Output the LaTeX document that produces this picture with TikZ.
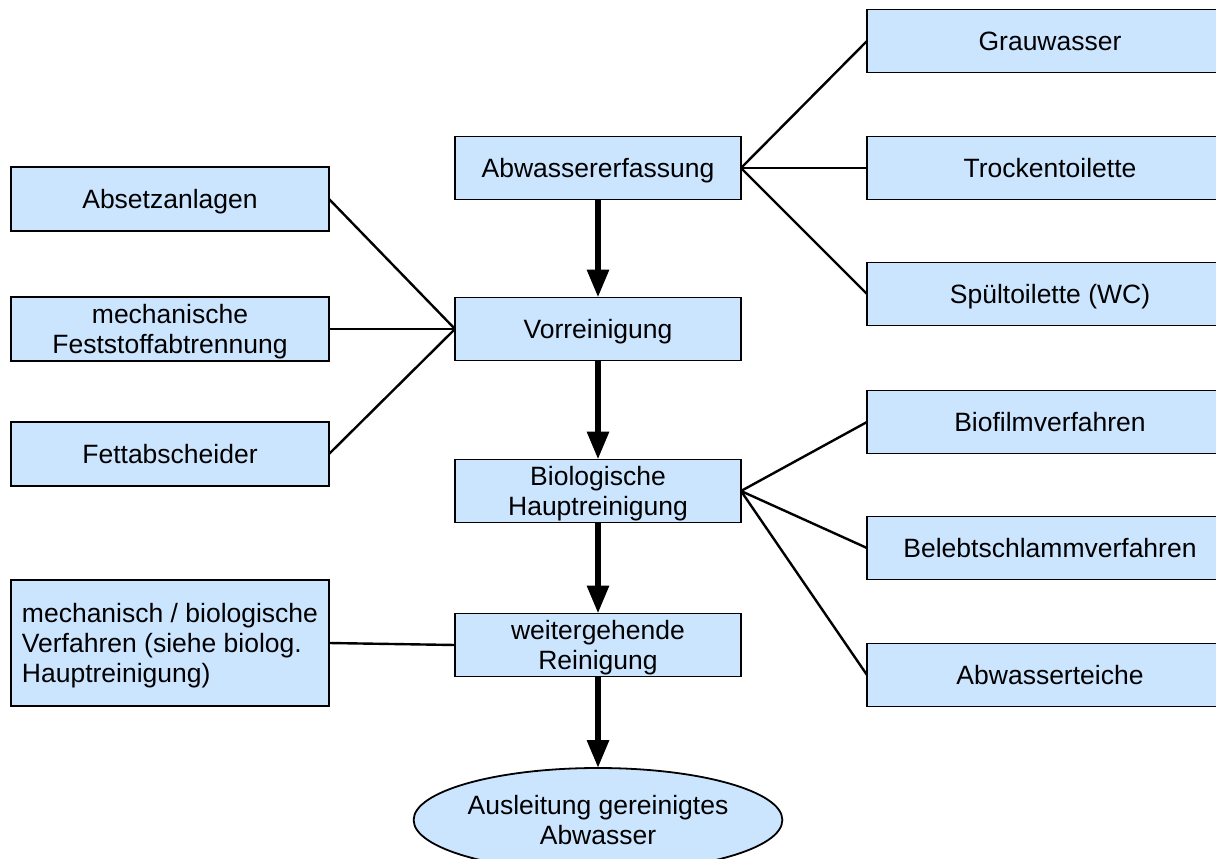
\documentclass[tikz,border=0pt]{standalone}
\usepackage{fontspec}
\setmainfont{Liberation Sans}
\usetikzlibrary{arrows.meta,shapes.geometric}
\definecolor{boxfill}{RGB}{204,229,255}
\newcommand{\lostrut}{\rule[-0.212em]{0pt}{1.117em}}
\begin{document}
\begin{tikzpicture}[x=1pt,y=-1pt,
  box/.style={draw=black,line width=1.8pt,fill=boxfill,rectangle,inner sep=0pt,outer sep=0pt,
    align=center,font=\fontsize{26.5}{30}\selectfont},
  mid/.style={box,minimum width=286pt,minimum height=63pt},
  lbox/.style={box,minimum width=318pt,minimum height=64pt},
  rbox/.style={box,minimum width=366pt,minimum height=63pt},
  link/.style={line width=2.4pt,black},
  flow/.style={line width=6pt,black,-{Triangle[length=28pt,width=21pt]}}]
\useasboundingbox (0,0) rectangle (1216,859);
% central chain
\node[mid] (abw) at (598,168) {\lostrut Abwassererfassung};
\node[mid] (vor) at (598,329) {\lostrut Vorreinigung};
\node[mid] (bio) at (598,491) {\lostrut Biologische\\Hauptreinigung\lostrut};
\node[mid] (wei) at (598,645) {\lostrut weitergehende\\Reinigung\lostrut};
\node[box,ellipse,minimum width=350pt,minimum height=104pt] (aus) at (598,820) {\lostrut Ausleitung gereinigtes\\Abwasser\lostrut};
% left boxes
\node[lbox] (abs) at (170,199) {\lostrut Absetzanlagen};
\node[lbox] (mech) at (170,329) {\lostrut mechanische\\Feststoffabtrennung\lostrut};
\node[lbox] (fett) at (170,454) {\lostrut Fettabscheider};
\node[lbox,minimum height=126pt,align=left] (mb) at (170,643) {\lostrut mechanisch / biologische\\Verfahren (siehe biolog.\\Hauptreinigung)\lostrut};
% right boxes
\node[rbox] (grau) at (1050,41) {\lostrut Grauwasser};
\node[rbox] (trock) at (1050,168) {\lostrut Trockentoilette};
\node[rbox] (spuel) at (1050,294) {\lostrut Spültoilette (WC)};
\node[rbox] (biof) at (1050,422) {\lostrut Biofilmverfahren};
\node[rbox] (beleb) at (1050,548) {\lostrut Belebtschlammverfahren};
\node[rbox] (teich) at (1050,675) {\lostrut Abwasserteiche};
% thin connectors
\draw[link] (abw.east) -- (grau.west);
\draw[link] (abw.east) -- (trock.west);
\draw[link] (abw.east) -- (spuel.west);
\draw[link] (abs.east) -- (vor.west);
\draw[link] (mech.east) -- (vor.west);
\draw[link] (fett.east) -- (vor.west);
\draw[link] (bio.east) -- (biof.west);
\draw[link] (bio.east) -- (beleb.west);
\draw[link] (bio.east) -- (teich.west);
\draw[link] (mb.east) -- (wei.west);
% thick flow arrows
\draw[flow] (abw.south) -- (vor.north);
\draw[flow] (vor.south) -- (bio.north);
\draw[flow] (bio.south) -- (wei.north);
\draw[flow] (wei.south) -- (aus.north);
\end{tikzpicture}
\end{document}
